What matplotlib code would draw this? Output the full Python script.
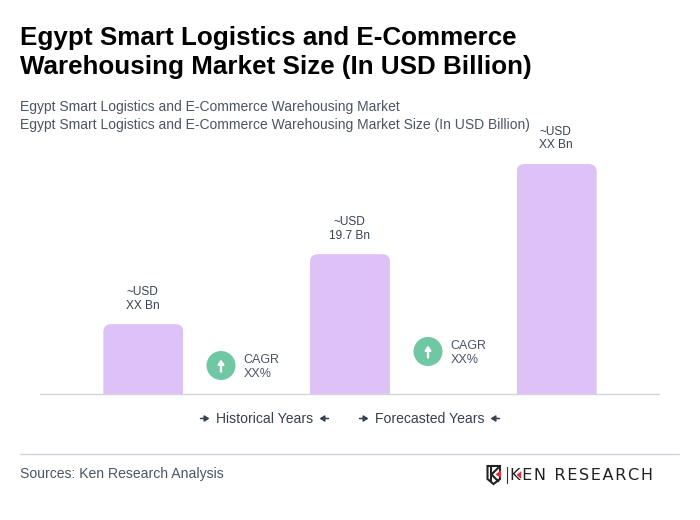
import matplotlib
matplotlib.use("Agg")
import matplotlib.pyplot as plt
from matplotlib.patches import FancyBboxPatch, Circle, Polygon

plt.rcParams['font.family'] = ['Liberation Sans', 'DejaVu Sans']

TITLE = "Egypt Smart Logistics and E-Commerce\nWarehousing Market Size (In USD Billion)"
SUB1 = "Egypt Smart Logistics and E-Commerce Warehousing Market"
SUB2 = "Egypt Smart Logistics and E-Commerce Warehousing Market Size (In USD Billion)"
categories = [0, 1, 2]
values = [9.85, 19.7, 32.4]
bar_labels = ["~USD\nXX Bn", "~USD\n19.7 Bn", "~USD\nXX Bn"]
cagr_labels = ["CAGR\nXX%", "CAGR\nXX%"]
legend_labels = ["Historical Years", "Forecasted Years"]
SOURCE = "Sources: Ken Research Analysis"

BAR = "#DEC2F7"
GREEN = "#6FC7A4"
GREY = "#4B5563"
DARK = "#374151"
LINE = "#D1D5DB"

W, H = 700, 520
fig = plt.figure(figsize=(W / 100, H / 100), dpi=100, facecolor="white")

ax = fig.add_axes([40 / W, 1 - 394 / H, 620 / W, 230 / H])
ax.set_xlim(-0.5, 2.5)
ax.set_ylim(0, max(values))
ax.axis("off")
ax.patch.set_alpha(0)

bw = 80 / (620 / 3)
ypp = max(values) / 230
xpp = 3 / 620
bars = ax.bar(categories, values, width=bw, color=BAR, linewidth=0, clip_on=True)
for rect, v, cat in zip(bars, values, categories):
    clip = FancyBboxPatch((cat - bw / 2, -5), bw, v + 5,
                          boxstyle=f"round,pad=0,rounding_size={8 * xpp}",
                          mutation_aspect=ypp / xpp, transform=ax.transData,
                          fc="none", ec="none")
    rect.set_clip_path(clip)

for cat, v, lab in zip(categories, values, bar_labels):
    ax.annotate(lab, (cat, v), xytext=(-0.7, 12.5 * 0.72), textcoords="offset points",
                ha="center", va="bottom", fontsize=8.6, color=DARK, linespacing=1.17,
                annotation_clip=False)

ov = fig.add_axes([0, 0, 1, 1], zorder=5)
ov.set_xlim(0, W)
ov.set_ylim(H, 0)
ov.axis("off")
ov.patch.set_alpha(0)

ov.plot([40, 660], [394.5, 394.5], color=LINE, lw=1, solid_capstyle="butt", snap=False)
ov.plot([20, 680], [454.5, 454.5], color=LINE, lw=1, solid_capstyle="butt", snap=False)

ov.text(20, 52.5, TITLE, fontsize=18.75, fontweight="bold", color="black",
        ha="left", va="center", linespacing=1.27)
ov.text(20, 107, SUB1, fontsize=10.0, color=GREY, ha="left", va="center")
ov.text(20, 125, SUB2, fontsize=10.0, color=GREY, ha="left", va="center")

def small_arrow(x, y, direction, color="#374151", size=9):
    ov.annotate("", xy=(x + direction * size / 2, y), xytext=(x - direction * size / 2, y),
                arrowprops=dict(arrowstyle="-|>,head_width=0.18,head_length=0.28",
                                color=color, lw=1.1, shrinkA=0, shrinkB=0))

for (cx, cy), lab in zip([(221, 365.5), (428, 351.5)], cagr_labels):
    ov.add_patch(Circle((cx, cy), 14.5, fc=GREEN, ec="none"))
    ov.annotate("", xy=(cx, cy - 6), xytext=(cx, cy + 6),
                arrowprops=dict(arrowstyle="-|>,head_width=0.17,head_length=0.24",
                                color="white", lw=1.7, shrinkA=0, shrinkB=0))
    ov.text(cx + 22.3, cy + 1.7, lab, fontsize=9, color=GREY, ha="left", va="center", linespacing=1.17)

for (tx, a1, a2), lab in zip([(216, 205, 324), (375, 364, 495)], legend_labels):
    ov.text(tx, 418.8, lab, fontsize=10.05, color=DARK, ha="left", va="center")
    small_arrow(a1, 418.5, 1)
    small_arrow(a2, 418.5, -1)

ov.text(20, 473.8, SOURCE, fontsize=10.05, color=GREY, ha="left", va="center")

# logo
ov.add_patch(Polygon([(487.5, 466), (500, 466), (500, 479), (493.5, 484), (487.5, 479)],
                     closed=True, fc="none", ec="#222222", lw=1.5))
ov.plot([491, 491], [468, 480], color="#222222", lw=1.5)
ov.plot([498, 491.5, 498], [468, 474.5, 481], color="#222222", lw=1.5)
ov.add_patch(Polygon([(501, 470), (495.5, 474.5), (501, 478)], closed=True, fc="#D9303E", ec="none"))
ov.plot([506.5, 506.5], [467, 483], color="#333333", lw=0.8)
spaced = "\u200a".join("KEN RESEARCH")
ov.text(510, 475, spaced, fontsize=11.6, color="#222222", ha="left", va="center",
        family="DejaVu Sans", zorder=2)
ov.add_patch(Polygon([(521.5, 470.5), (516, 475), (521.5, 479.5)], closed=True, fc="#D9303E", ec="white", lw=0.4, zorder=3))

fig.savefig("out.png", dpi=100, facecolor="white")
